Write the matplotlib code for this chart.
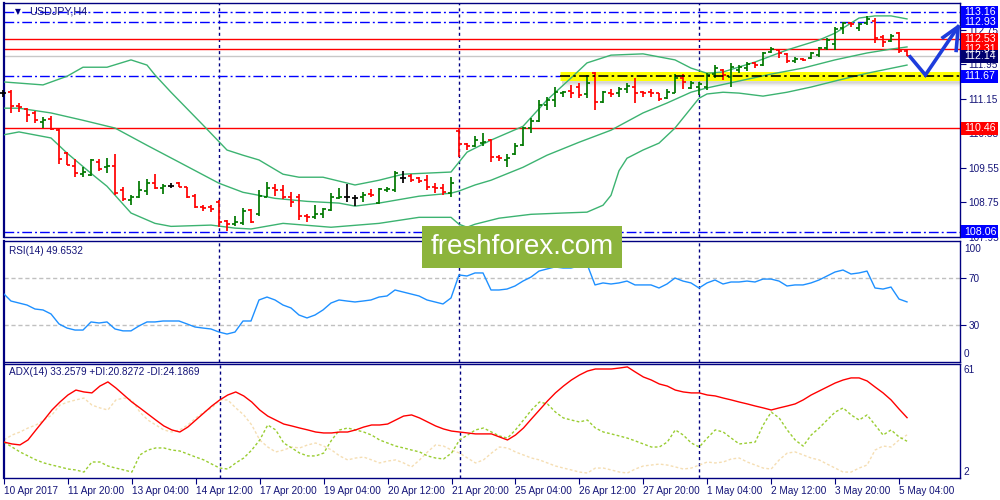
import numpy as np
import matplotlib
matplotlib.use("Agg")
import matplotlib.pyplot as plt
from matplotlib.collections import LineCollection
from matplotlib.patches import Rectangle

# ---------------- data ----------------
symbol = "USDJPY,H4"
opens = [111.28,111.30,110.98,110.91,110.82,110.61,110.68,110.42,109.89,109.59,
         109.40,109.38,109.68,109.56,109.59,109.03,108.80,108.87,109.01,109.19,
         109.08,109.12,109.19,109.10,108.89,108.64,108.64,108.75,108.31,108.24,
         108.26,108.57,108.47,108.87,109.08,109.03,108.87,108.87,108.43,108.40,
         108.47,108.57,108.84,108.87,108.84,108.87,108.94,108.73,109.03,109.03,
         109.31,109.35,109.31,109.26,109.10,109.08,108.96,110.40,110.10,110.05,
         110.12,110.19,109.80,109.73,109.87,110.07,110.47,110.63,111.00,111.12,
         111.28,111.33,111.42,111.26,111.74,111.07,111.28,111.28,111.37,111.42,
         111.30,111.30,111.28,111.16,111.28,111.63,111.40,111.42,111.42,111.72,
         111.81,111.65,111.81,111.86,111.98,111.93,112.23,112.28,112.19,112.02,
         112.07,112.09,112.16,112.32,112.42,112.79,112.90,112.79,112.90,112.95,
         112.58,112.49,112.67,112.26]
highs = [111.35,111.35,111.05,110.93,110.86,110.72,110.75,110.45,109.91,109.75,
         109.56,109.75,109.75,109.77,109.87,109.10,108.91,109.24,109.29,109.40,
         109.17,109.19,109.22,109.10,108.94,108.68,108.68,108.80,108.33,108.43,
         108.61,108.59,109.03,109.22,109.17,109.15,108.98,108.94,108.47,108.68,
         108.61,108.96,109.08,109.17,108.91,108.98,109.05,109.08,109.10,109.47,
         109.47,109.40,109.33,109.38,109.19,109.17,109.33,110.45,110.12,110.28,
         110.35,110.21,109.84,109.87,110.12,110.49,110.70,111.12,111.19,111.42,
         111.33,111.47,111.51,111.70,111.77,111.33,111.37,111.42,111.51,111.63,
         111.33,111.37,111.28,111.37,111.72,111.72,111.56,111.54,111.74,111.93,
         111.84,111.98,111.93,112.00,112.00,112.23,112.35,112.30,112.21,112.12,
         112.09,112.23,112.35,112.56,112.81,112.93,112.93,112.90,113.07,113.02,
         112.63,112.65,112.70,112.30]
lows = [111.19,110.82,110.84,110.61,110.58,110.47,110.42,109.63,109.61,109.33,
        109.33,109.35,109.47,109.42,108.91,108.77,108.68,108.84,108.91,109.05,
        108.94,109.08,109.10,108.84,108.61,108.54,108.52,108.17,108.08,108.19,
        108.22,108.26,108.43,108.87,108.89,108.82,108.64,108.33,108.29,108.36,
        108.38,108.54,108.82,108.75,108.66,108.75,108.87,108.70,108.98,108.98,
        109.19,109.22,109.19,109.03,108.96,108.91,108.87,109.80,109.96,110.03,
        110.05,109.68,109.70,109.56,109.84,110.05,110.35,110.61,110.89,110.96,
        111.19,111.16,111.16,111.16,110.89,111.05,111.19,111.19,111.28,111.05,
        111.19,111.19,111.09,111.14,111.28,111.37,111.37,111.23,111.35,111.63,
        111.58,111.42,111.74,111.79,111.86,111.91,112.21,112.09,111.98,111.98,
        112.02,112.07,112.12,112.28,112.28,112.65,112.81,112.72,112.86,112.44,
        112.35,112.46,112.21,112.13]
closes = [111.28,110.98,110.96,110.77,110.65,110.65,110.45,109.75,109.61,109.42,
          109.45,109.73,109.52,109.59,108.96,108.82,108.87,109.03,109.19,109.08,
          109.12,109.12,109.10,108.87,108.64,108.61,108.59,108.29,108.24,108.29,
          108.54,108.29,108.89,109.08,109.03,108.87,108.75,108.43,108.40,108.47,
          108.59,108.87,108.87,108.87,108.84,108.91,108.91,109.05,109.05,109.42,
          109.31,109.26,109.24,109.10,109.08,108.98,109.19,110.10,110.05,110.19,
          110.14,109.80,109.77,109.77,110.05,110.47,110.63,111.00,111.12,111.30,
          111.30,111.28,111.23,111.51,111.07,111.30,111.26,111.37,111.44,111.28,
          111.28,111.28,111.14,111.30,111.63,111.54,111.51,111.49,111.70,111.86,
          111.70,111.88,111.88,111.95,111.93,112.21,112.30,112.21,112.02,112.07,
          112.05,112.21,112.32,112.51,112.77,112.90,112.88,112.88,113.00,112.56,
          112.46,112.60,112.26,112.14]

# Bollinger bands (20) read at selected bars
bb_up_bar = [0,5,8,10,13,16,18,19,21,25,28,30,32,35,37,40,44,47,50,56,57,58,61,65,68,
             71,73,76,80,84,86,88,90,94,98,102,104,107,109,111,113]
bb_up = [111.54,111.47,111.67,111.88,111.88,112.05,111.93,111.70,111.30,110.54,109.96,
         109.84,109.73,109.40,109.33,109.33,109.15,109.26,109.40,109.45,109.68,109.91,
         110.19,110.51,111.12,111.63,111.98,112.16,112.19,112.05,111.86,111.74,111.77,
         112.00,112.28,112.51,112.67,113.02,113.07,113.07,113.00]
bb_mid_bar = [0,2,6,10,14,18,22,27,30,34,38,42,44,47,52,56,57,59,61,65,68,72,76,80,83,
              86,88,92,96,100,104,108,111,113]
bb_mid = [110.93,110.93,110.82,110.65,110.47,110.07,109.68,109.19,108.98,108.84,108.77,
          108.73,108.66,108.73,108.89,108.96,109.01,109.15,109.26,109.56,109.84,110.14,
          110.42,110.82,111.05,111.30,111.40,111.56,111.72,111.86,112.05,112.21,112.30,
          112.35]
bb_low_bar = [0,2,6,8,11,13,16,19,21,26,29,31,35,41,47,52,56,57,58,59,62,66,70,73,75,
              76,77,78,80,82,84,86,87,88,90,92,95,98,101,104,108,113]
bb_low = [110.31,110.38,110.24,109.89,109.42,109.12,108.50,108.26,108.19,108.22,108.15,
          108.13,108.26,108.17,108.26,108.40,108.40,108.24,108.17,108.24,108.38,108.47,
          108.50,108.52,108.68,108.91,109.48,109.77,109.96,110.12,110.47,110.93,111.16,
          111.26,111.30,111.28,111.21,111.30,111.42,111.56,111.74,111.93]

rsi = [57.2,50.4,48.7,47.0,43.6,42.8,39.4,30.9,27.4,25.7,25.7,32.6,31.7,32.6,26.6,25.0,
       25.0,29.2,32.6,32.6,33.4,33.4,33.4,30.9,28.3,27.4,26.6,24.0,22.3,24.0,33.4,33.4,
       51.3,53.8,51.3,47.0,44.5,38.5,36.0,38.5,42.8,48.7,51.3,50.4,49.6,50.4,51.3,53.8,
       54.7,59.8,58.1,56.4,54.7,51.3,49.6,47.9,53.0,72.6,71.7,74.3,74.3,59.8,59.8,60.6,
       63.2,67.4,70.8,75.9,77.7,79.4,78.5,78.5,80.2,81.9,64.1,65.8,64.9,65.8,67.4,64.1,
       64.1,64.1,61.5,64.9,70.0,67.4,65.8,61.5,65.8,68.3,64.9,66.6,66.6,67.4,66.6,69.1,
       69.1,67.4,63.2,64.1,64.1,65.8,68.3,71.7,75.1,76.8,73.4,74.3,75.9,61.5,60.6,62.3,
       52.1,49.65]
adx = [20.4,19.4,18.9,21.5,26.8,32.0,37.3,41.5,45.2,47.8,46.8,46.3,49.9,52.1,48.9,45.2,
       41.5,38.4,35.2,32.0,28.9,26.8,25.7,28.3,32.0,35.7,39.4,42.6,45.2,46.8,44.7,41.5,
       37.3,34.1,32.0,29.9,28.9,27.8,26.8,25.7,25.2,25.2,25.7,25.7,26.8,28.3,29.4,29.4,
       29.9,32.0,34.1,34.7,33.1,31.0,28.9,27.3,26.2,25.7,25.2,24.7,24.7,24.7,23.1,21.5,
       24.1,27.8,32.6,37.3,42.0,46.3,49.9,53.1,55.7,57.8,58.9,58.9,58.9,59.4,60.0,57.3,
       54.7,53.1,51.0,49.9,47.8,46.8,46.3,46.3,45.2,44.7,43.6,42.6,41.5,40.5,39.4,38.4,
       37.3,38.4,39.4,40.5,42.6,45.2,47.3,49.4,51.5,53.1,54.2,54.2,52.6,49.4,46.3,42.6,
       37.8,33.26]
plus_di = [20.4,17.8,15.2,13.1,11.0,9.4,8.3,7.3,6.2,5.7,4.6,9.9,9.9,7.8,6.7,5.7,4.6,13.6,
           16.2,17.3,17.3,16.2,15.7,14.1,12.5,11.0,8.8,6.7,6.2,9.4,12.0,16.2,21.5,29.4,
           26.8,19.9,17.3,14.6,13.1,13.1,14.6,21.5,26.8,27.8,26.8,25.7,24.1,21.5,19.9,
           18.3,17.3,16.2,15.2,13.1,12.0,11.5,14.6,21.5,24.1,26.8,27.8,25.7,23.6,22.5,
           26.8,32.0,37.3,41.5,40.5,36.2,33.1,32.0,31.0,32.0,27.8,25.7,24.7,23.6,22.5,
           21.0,19.4,17.8,17.8,20.4,26.8,24.1,19.9,17.8,22.5,26.8,25.7,22.5,19.4,19.9,
           20.4,29.4,36.2,33.1,26.8,21.5,18.3,24.1,27.8,32.0,36.2,38.4,34.7,32.0,34.7,
           29.4,24.1,26.8,23.1,20.83]
minus_di = [21.5,24.1,25.7,27.8,29.4,32.0,34.7,39.9,41.5,42.6,43.6,39.9,38.4,37.3,42.6,
            43.6,42.6,36.2,32.0,29.4,26.8,25.7,26.8,29.4,33.1,36.2,38.4,42.6,42.6,38.4,
            34.7,29.4,21.5,17.8,15.2,16.2,17.8,17.3,18.9,19.9,18.3,16.2,13.1,11.0,12.0,
            12.5,11.0,9.4,10.4,11.0,9.4,7.3,11.0,15.2,18.9,18.3,16.2,14.6,12.0,9.4,11.0,
            14.6,17.8,17.3,15.2,13.6,12.0,11.0,9.4,7.8,6.7,5.7,4.6,4.1,6.7,6.7,5.7,4.6,
            4.1,6.2,7.8,8.3,8.8,8.3,7.3,6.2,6.7,8.3,9.9,9.4,9.9,11.5,12.0,9.9,8.3,6.7,
            6.2,11.0,14.6,15.2,13.6,12.0,11.0,8.8,6.7,4.6,4.6,6.7,8.3,16.2,18.3,17.8,
            21.5,24.19]

price_ticks = [112.75, 111.95, 111.15, 110.35, 109.55, 108.75, 107.95]
time_labels = ["10 Apr 2017", "11 Apr 20:00", "13 Apr 04:00", "14 Apr 12:00",
               "17 Apr 20:00", "19 Apr 04:00", "20 Apr 12:00", "21 Apr 20:00",
               "25 Apr 04:00", "26 Apr 12:00", "27 Apr 20:00", "1 May 04:00",
               "2 May 12:00", "3 May 20:00", "5 May 04:00"]
time_label_bars = [0, 8, 16, 24, 32, 40, 48, 56, 64, 72, 80, 88, 96, 104, 112]
week_start_bars = [27, 57, 87]

levels_blue = [113.16, 112.93, 108.06]
levels_red = [112.53, 112.31, 110.46]
current_price = 112.14
support = 111.67
support_start_bar = 69.6
arrow_bars = [113.4, 115.3, 119.4]
arrow_prices = [112.12, 111.70, 112.82]

rsi_text = "RSI(14) 49.6532"
adx_text = "ADX(14) 33.2579 +DI:20.8272 -DI:24.1869"

# ---------------- style ----------------
W, H = 1000, 500
NAVY = "#000080"
TXT = "#141478"
FONT = "Liberation Sans"
FS = 7.2
plt.rcParams["font.family"] = [FONT, "DejaVu Sans"]

fig = plt.figure(figsize=(10, 5), dpi=100)
fig.patch.set_facecolor("white")


def rect(x0, y0, x1, y1):
    return [x0 / W, 1 - y1 / H, (x1 - x0) / W, (y1 - y0) / H]


ax = fig.add_axes(rect(4, 3, 960, 237))
axr = fig.add_axes(rect(4, 241, 960, 362))
axa = fig.add_axes(rect(4, 364, 960, 478))

XL = (0.125, 119.625)
for a in (ax, axr, axa):
    a.set_xlim(*XL)
    a.set_facecolor("white")
    for s in a.spines.values():
        s.set_color(NAVY)
        s.set_linewidth(1.0)
    a.spines["left"].set_linewidth(1.6)
    a.yaxis.tick_right()
    a.tick_params(axis="y", colors=NAVY, labelcolor=TXT, labelsize=FS, length=4,
                  width=0.8, pad=2)
    a.tick_params(axis="x", bottom=False, labelbottom=False)
    for b in week_start_bars:
        a.axvline(b, color=NAVY, lw=1.0, ls=(0, (2.2, 2.2)), zorder=1)

ax.set_ylim(107.944, 113.369)
axr.set_ylim(-1.5, 101.5)
axa.set_ylim(1.47, 61.53)

# ---------------- main panel ----------------
n = len(closes)
idx = np.arange(n)
segs, cols = [], []
for i in range(n):
    o, h, l, c = opens[i], highs[i], lows[i], closes[i]
    col = "#007800" if c > o else ("#ff0000" if c < o else "#000000")
    segs += [[(i, l), (i, h)], [(i - 0.4, o), (i, o)], [(i, c), (i + 0.4, c)]]
    cols += [col] * 3
ax.add_collection(LineCollection(segs, colors=cols, linewidths=1.25, zorder=5,
                                 clip_on=False, capstyle="butt"))

bb_col = "#3cb371"
ax.plot(bb_up_bar, bb_up, color=bb_col, lw=1.0, zorder=3)
ax.plot(bb_mid_bar, bb_mid, color=bb_col, lw=1.0, zorder=3)
ax.plot(bb_low_bar, bb_low, color=bb_col, lw=1.0, zorder=3)

dd = (0, (7, 2.2, 1.4, 2.2))
for p in levels_blue:
    ax.axhline(p, color="#0000ff", lw=1.0, ls=dd, zorder=2)
for p in levels_red:
    ax.axhline(p, color="#ff0000", lw=1.0, zorder=2)
ax.axhline(current_price, color="#c8c8c8", lw=1.0, zorder=1.5)

# support with yellow highlight
ax.plot([XL[0], support_start_bar], [support, support], color="#0000ff", lw=1.0,
        ls=dd, zorder=2)
for k, a_ in enumerate([0.10, 0.08, 0.06, 0.04, 0.02]):
    ax.plot([support_start_bar + 0.3, XL[1]], [support - 0.11 - 0.025 * k] * 2,
            color="#606060", alpha=a_, lw=3, zorder=2, solid_capstyle="butt")
ax.plot([support_start_bar, XL[1]], [support, support], color="#ffff00", lw=6.5,
        zorder=2.5, solid_capstyle="butt")
ax.plot([support_start_bar, XL[1]], [support, support], color="#000000", lw=1.2,
        ls=(0, (6, 2, 1.5, 2)), zorder=6)

# blue forecast arrow
ax.plot(arrow_bars, arrow_prices, color="#1e3cdc", lw=2.6, zorder=7,
        solid_joinstyle="miter", clip_on=False)
tip_x, tip_y = arrow_bars[-1], arrow_prices[-1]
ax.plot([tip_x - 1.9, tip_x, tip_x - 0.25], [tip_y - 0.25, tip_y, tip_y - 0.55],
        color="#1e3cdc", lw=2.6, zorder=7, clip_on=False)

ax.set_yticks(price_ticks)
ax.set_yticklabels([f"{v:.2f}" for v in price_ticks])
ax.text(0.012, 0.965, "▼", transform=ax.transAxes, fontsize=5.5, color=NAVY,
        va="center", ha="left", family="DejaVu Sans")
ax.text(0.026, 0.965, symbol, transform=ax.transAxes, fontsize=FS + 0.6, color=TXT,
        va="center", ha="left")

# value boxes on the right
box_items = [(113.16, "#0000ff"), (112.93, "#0000ff"), (112.53, "#ff0000"),
             (112.31, "#ff0000"), (current_price, "#000070"), (support, "#0000ff"),
             (110.46, "#ff0000"), (108.06, "#0000ff")]
for p, c in box_items:
    yd = ax.transData.transform((1, p))[1]
    fy = yd / H
    fig.add_artist(Rectangle((961 / W, fy - 6.5 / H), 37 / W, 13 / H, facecolor=c,
                             edgecolor="none", zorder=20))
    fig.text(964 / W, fy, f"{p:.2f}", color="white", fontsize=FS + 0.5,
             va="center", ha="left", zorder=21)

# ---------------- RSI panel ----------------
axr.plot(idx, rsi, color="#1e90ff", lw=1.0, zorder=3)
for lv in (70, 30):
    axr.axhline(lv, color="#c0c0c0", lw=1.0, ls=(0, (3, 2)), zorder=1)
axr.set_yticks([70, 30])
axr.set_yticklabels(["70", "30"])
axr.text(1.004, 99, "100", transform=axr.get_yaxis_transform(), fontsize=FS,
         color=TXT, va="top", ha="left")
axr.text(1.004, 1, "0", transform=axr.get_yaxis_transform(), fontsize=FS,
         color=TXT, va="bottom", ha="left")
axr.text(0.005, 0.92, rsi_text, transform=axr.transAxes, fontsize=FS, color=TXT,
         va="center", ha="left")

# ---------------- ADX panel ----------------
axa.plot(idx, plus_di, color="#9acd32", lw=1.0, ls=(0, (2, 1.6)), zorder=3)
axa.plot(idx, minus_di, color="#f5deb3", lw=1.0, ls=(0, (2, 1.6)), zorder=2)
axa.plot(idx, adx, color="#ff0000", lw=1.0, zorder=4)
axa.set_yticks([])
axa.tick_params(axis="y", right=False)
axa.text(1.004, 61, "61", transform=axa.get_yaxis_transform(), fontsize=FS,
         color=TXT, va="top", ha="left")
axa.text(1.004, 2, "2", transform=axa.get_yaxis_transform(), fontsize=FS,
         color=TXT, va="bottom", ha="left")
axa.text(0.005, 0.93, adx_text, transform=axa.transAxes, fontsize=FS, color=TXT,
         va="center", ha="left")

axa.set_xticks(time_label_bars)
axa.set_xticklabels(time_labels, ha="left")
axa.tick_params(axis="x", bottom=True, labelbottom=True, colors=NAVY,
                labelcolor=TXT, labelsize=FS, length=4, width=0.8, pad=2)

# ---------------- watermark ----------------
fig.add_artist(Rectangle((422 / W, 1 - 268 / H), 200 / W, 42 / H,
                         facecolor="#8cb43c", edgecolor="none", zorder=30))
fig.text(522 / W, 1 - 247 / H, "freshforex.com", color="white", fontsize=20,
         ha="center", va="center", zorder=31, family=["Liberation Sans", "DejaVu Sans"])

fig.savefig("out.png", dpi=100)
